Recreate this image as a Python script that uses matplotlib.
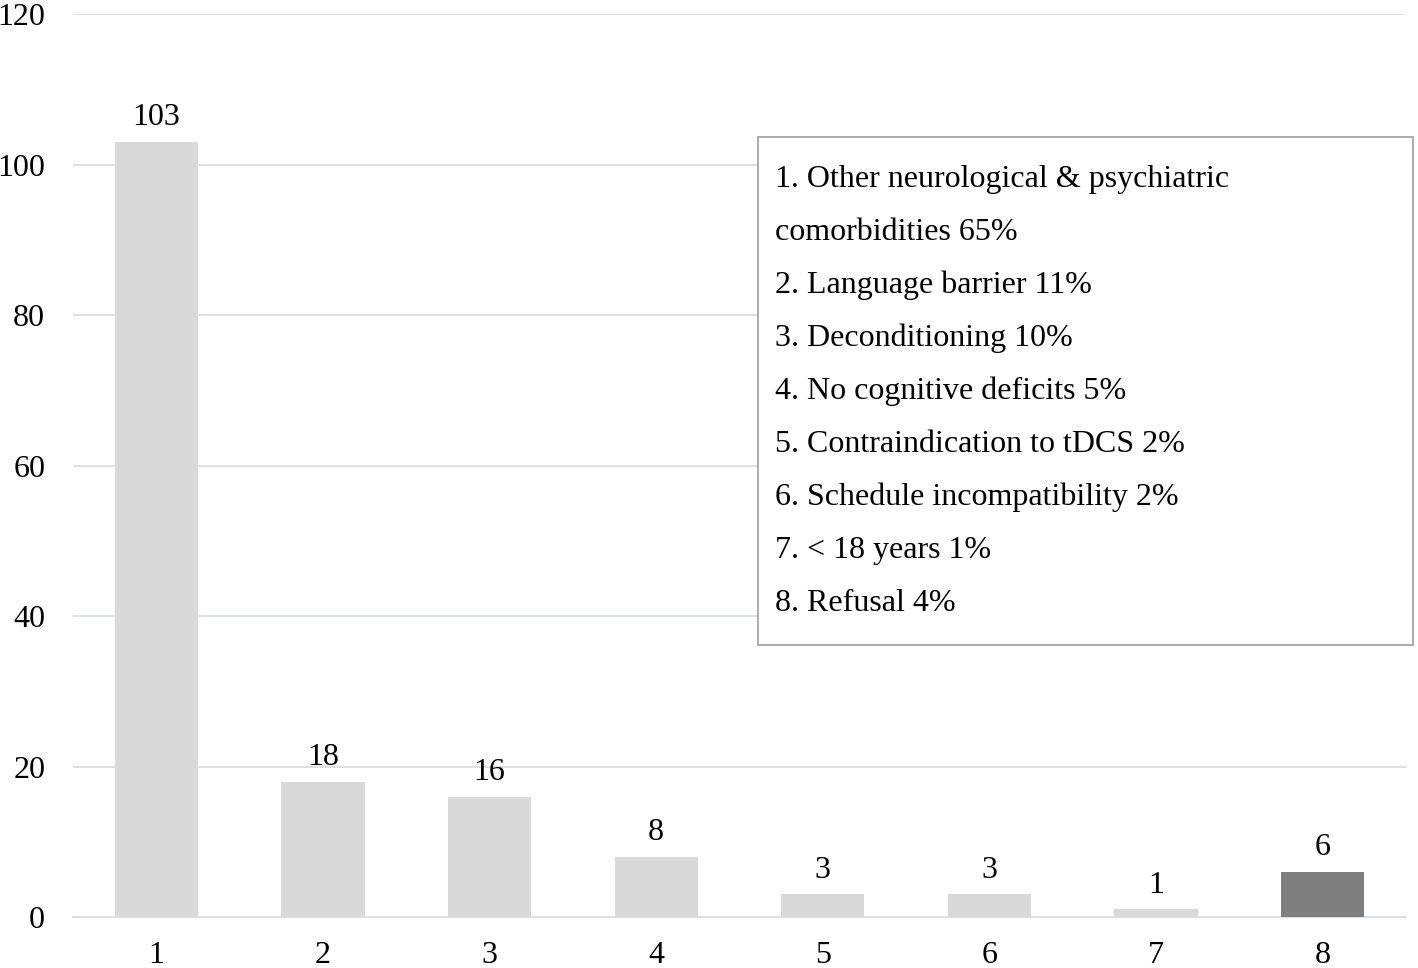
import matplotlib
matplotlib.use("Agg")
import matplotlib.pyplot as plt
from matplotlib.patches import Rectangle

plt.rcParams['font.family'] = ['Liberation Serif', 'DejaVu Serif']

# data
categories = ['1', '2', '3', '4', '5', '6', '7', '8']
counts = [103, 18, 16, 8, 3, 3, 1, 6]
bar_colors = ['#d9d9d9'] * 7 + ['#7f7f7f']
legend_lines = [
    '1. Other neurological & psychiatric',
    'comorbidities 65%',
    '2. Language barrier 11%',
    '3. Deconditioning 10%',
    '4. No cognitive deficits 5%',
    '5. Contraindication to tDCS 2%',
    '6. Schedule incompatibility 2%',
    '7. < 18 years 1%',
    '8. Refusal 4%',
]

W, H = 1418, 968
fs = 23
fig = plt.figure(figsize=(W / 100, H / 100), dpi=100)
ax = fig.add_axes([73 / W, 51 / H, (1406 - 73) / W, (917 - 14) / H])

x = range(len(categories))
bars = ax.bar(x, counts, width=0.5, color=bar_colors, zorder=3)
for xi, v in zip(x, counts):
    ax.text(xi, v + 1.3, str(v), ha='center', va='bottom', fontsize=fs)

ax.set_xlim(-0.5, 7.5)
ax.set_ylim(0, 120)
ax.set_yticks(range(0, 121, 20))
ax.set_xticks(list(x))
ax.set_xticklabels(categories)
ax.tick_params(axis='both', length=0, labelsize=fs)
ax.tick_params(axis='y', pad=20)
ax.tick_params(axis='x', pad=17)
ax.grid(axis='y', color='#d9dee6', linewidth=1.3, zorder=0)
for s in ['top', 'right', 'left']:
    ax.spines[s].set_visible(False)
ax.spines['bottom'].set_color('#d9dee6')
ax.spines['bottom'].set_linewidth(1.3)

# text box
fig.patches.append(Rectangle((758 / W, 1 - 645 / H), (1413 - 758) / W, (645 - 137) / H,
                             transform=fig.transFigure, facecolor='white',
                             edgecolor='#a6a6a6', linewidth=1.3, zorder=5))
for i, line in enumerate(legend_lines):
    fig.text(775 / W, 1 - (179 + i * 53.1) / H, line, ha='left', va='center',
             fontsize=fs, zorder=6)

fig.savefig('out.png', dpi=100)
